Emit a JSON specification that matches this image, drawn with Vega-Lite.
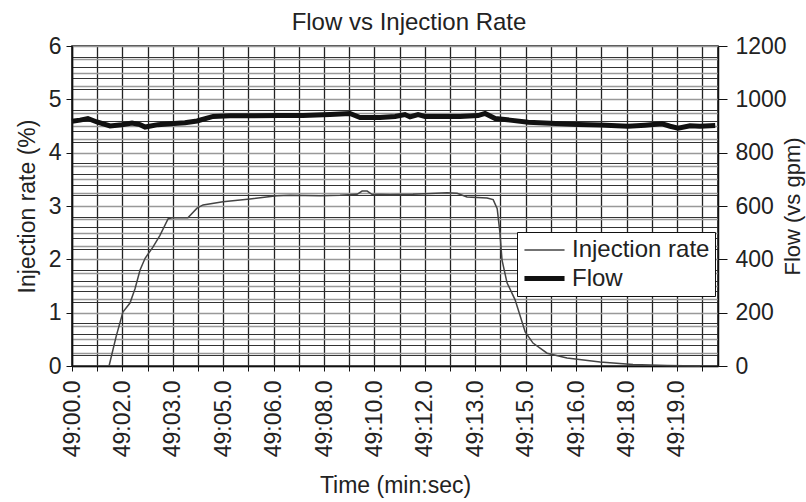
{
  "$schema": "https://vega.github.io/schema/vega-lite/v6.json",
  "width": 646,
  "height": 320,
  "autosize": {"type": "none"},
  "padding": {"left": 72, "top": 46, "right": 88, "bottom": 136},
  "background": "white",
  "title": {"text": "Flow vs Injection Rate", "fontSize": 24, "fontWeight": "normal", "font": "Liberation Sans", "color": "#222", "offset": 0, "anchor": "middle", "dx": 14},
  "config": {
    "view": {"stroke": "#111", "strokeWidth": 1.5},
    "axis": {"labelFont": "Liberation Sans", "titleFont": "Liberation Sans", "labelColor": "#222", "titleColor": "#222", "labelFontSize": 23, "titleFontSize": 23, "titleFontWeight": "normal", "domainColor": "#111", "tickColor": "#111", "domainWidth": 1.5}
  },
  "data": {
    "values": [
      {"t": 0.00, "series": "Flow", "value": 918},
      {"t": 0.32, "series": "Flow", "value": 922},
      {"t": 0.63, "series": "Flow", "value": 928},
      {"t": 0.99, "series": "Flow", "value": 915},
      {"t": 1.51, "series": "Flow", "value": 900},
      {"t": 1.98, "series": "Flow", "value": 905},
      {"t": 2.38, "series": "Flow", "value": 911},
      {"t": 2.70, "series": "Flow", "value": 905},
      {"t": 2.90, "series": "Flow", "value": 896},
      {"t": 3.41, "series": "Flow", "value": 905},
      {"t": 3.89, "series": "Flow", "value": 908},
      {"t": 4.48, "series": "Flow", "value": 912},
      {"t": 4.96, "series": "Flow", "value": 919},
      {"t": 5.60, "series": "Flow", "value": 936},
      {"t": 6.27, "series": "Flow", "value": 938},
      {"t": 7.18, "series": "Flow", "value": 938},
      {"t": 8.25, "series": "Flow", "value": 939},
      {"t": 9.17, "series": "Flow", "value": 939},
      {"t": 10.24, "series": "Flow", "value": 943},
      {"t": 11.03, "series": "Flow", "value": 947},
      {"t": 11.43, "series": "Flow", "value": 932},
      {"t": 12.22, "series": "Flow", "value": 932},
      {"t": 12.82, "series": "Flow", "value": 936},
      {"t": 13.21, "series": "Flow", "value": 943},
      {"t": 13.41, "series": "Flow", "value": 934},
      {"t": 13.73, "series": "Flow", "value": 943},
      {"t": 14.01, "series": "Flow", "value": 936},
      {"t": 14.60, "series": "Flow", "value": 936},
      {"t": 15.40, "series": "Flow", "value": 936},
      {"t": 16.11, "series": "Flow", "value": 939},
      {"t": 16.39, "series": "Flow", "value": 947},
      {"t": 16.79, "series": "Flow", "value": 928},
      {"t": 17.38, "series": "Flow", "value": 922},
      {"t": 18.10, "series": "Flow", "value": 914},
      {"t": 18.97, "series": "Flow", "value": 910},
      {"t": 20.08, "series": "Flow", "value": 906},
      {"t": 20.95, "series": "Flow", "value": 904},
      {"t": 22.06, "series": "Flow", "value": 899},
      {"t": 22.74, "series": "Flow", "value": 903},
      {"t": 23.41, "series": "Flow", "value": 908},
      {"t": 23.73, "series": "Flow", "value": 899},
      {"t": 24.05, "series": "Flow", "value": 892},
      {"t": 24.52, "series": "Flow", "value": 901},
      {"t": 24.92, "series": "Flow", "value": 899},
      {"t": 25.52, "series": "Flow", "value": 902},
      {"t": 1.47, "series": "Injection rate", "value": 0},
      {"t": 1.75, "series": "Injection rate", "value": 0.55},
      {"t": 2.02, "series": "Injection rate", "value": 1.01},
      {"t": 2.30, "series": "Injection rate", "value": 1.18},
      {"t": 2.50, "series": "Injection rate", "value": 1.45},
      {"t": 2.70, "series": "Injection rate", "value": 1.80},
      {"t": 2.90, "series": "Injection rate", "value": 2.02},
      {"t": 3.21, "series": "Injection rate", "value": 2.23},
      {"t": 3.49, "series": "Injection rate", "value": 2.45},
      {"t": 3.81, "series": "Injection rate", "value": 2.76},
      {"t": 3.97, "series": "Injection rate", "value": 2.78},
      {"t": 4.60, "series": "Injection rate", "value": 2.78},
      {"t": 4.96, "series": "Injection rate", "value": 2.96},
      {"t": 5.20, "series": "Injection rate", "value": 3.02},
      {"t": 5.99, "series": "Injection rate", "value": 3.08},
      {"t": 7.06, "series": "Injection rate", "value": 3.13},
      {"t": 8.13, "series": "Injection rate", "value": 3.19},
      {"t": 8.65, "series": "Injection rate", "value": 3.20},
      {"t": 9.84, "series": "Injection rate", "value": 3.19},
      {"t": 10.63, "series": "Injection rate", "value": 3.20},
      {"t": 11.31, "series": "Injection rate", "value": 3.22},
      {"t": 11.51, "series": "Injection rate", "value": 3.28},
      {"t": 11.71, "series": "Injection rate", "value": 3.28},
      {"t": 11.90, "series": "Injection rate", "value": 3.22},
      {"t": 12.62, "series": "Injection rate", "value": 3.21},
      {"t": 13.53, "series": "Injection rate", "value": 3.22},
      {"t": 14.88, "series": "Injection rate", "value": 3.25},
      {"t": 15.28, "series": "Injection rate", "value": 3.24},
      {"t": 15.67, "series": "Injection rate", "value": 3.17},
      {"t": 16.47, "series": "Injection rate", "value": 3.15},
      {"t": 16.71, "series": "Injection rate", "value": 3.12},
      {"t": 16.87, "series": "Injection rate", "value": 2.95},
      {"t": 16.98, "series": "Injection rate", "value": 2.49},
      {"t": 17.06, "series": "Injection rate", "value": 1.99},
      {"t": 17.26, "series": "Injection rate", "value": 1.56},
      {"t": 17.58, "series": "Injection rate", "value": 1.24},
      {"t": 17.98, "series": "Injection rate", "value": 0.64},
      {"t": 18.29, "series": "Injection rate", "value": 0.43},
      {"t": 18.85, "series": "Injection rate", "value": 0.24},
      {"t": 19.64, "series": "Injection rate", "value": 0.15},
      {"t": 20.95, "series": "Injection rate", "value": 0.075},
      {"t": 22.26, "series": "Injection rate", "value": 0.03},
      {"t": 23.61, "series": "Injection rate", "value": 0.01},
      {"t": 24.92, "series": "Injection rate", "value": 0.0}
    ]
  },
  "encoding": {
    "x": {
      "field": "t",
      "type": "quantitative",
      "scale": {"domain": [0, 25.63], "nice": false, "zero": false},
      "axis": {
        "title": "Time (min:sec)",
        "titlePadding": 18,
        "values": [0,1,2,3,4,5,6,7,8,9,10,11,12,13,14,15,16,17,18,19,20,21,22,23,24,25],
        "labelExpr": "datum.value % 2 == 0 ? ['49:00.0','49:02.0','49:03.0','49:05.0','49:06.0','49:08.0','49:10.0','49:12.0','49:13.0','49:15.0','49:16.0','49:18.0','49:19.0'][datum.value / 2] : ''",
        "labelAngle": 270,
        "labelOverlap": false,
        "labelFlush": false,
        "labelBound": false,
        "labelPadding": 9,
        "tickSize": 5,
        "grid": true,
        "gridColor": "#222",
        "gridWidth": 1.3
      }
    }
  },
  "layer": [
    {
      "transform": [{"filter": "datum.series == 'Injection rate'"}],
      "mark": {"type": "line", "interpolate": "linear"},
      "encoding": {
        "y": {
          "field": "value",
          "type": "quantitative",
          "scale": {"domain": [0, 6], "nice": false},
          "axis": {
            "orient": "left",
            "title": "Injection rate (%)",
            "titlePadding": 9,
            "values": [0,0.2,0.4,0.6,0.8,1,1.2,1.4,1.6,1.8,2,2.2,2.4,2.6,2.8,3,3.2,3.4,3.6,3.8,4,4.2,4.4,4.6,4.8,5,5.2,5.4,5.6,5.8,6],
            "labelExpr": "datum.value == round(datum.value) ? format(datum.value, 'd') : ''",
            "tickOpacity": {"condition": {"test": "datum.value == round(datum.value)", "value": 1}, "value": 0},
            "tickSize": 6,
            "labelPadding": 5,
            "grid": true,
            "gridColor": "#333",
            "gridWidth": 1.1
          }
        },
        "color": {
          "field": "series",
          "type": "nominal",
          "scale": {"domain": ["Injection rate", "Flow"], "range": ["#444444", "#111111"]},
          "legend": {
            "orient": "none",
            "legendX": 445,
            "legendY": 186,
            "title": null,
            "symbolType": "M-1.67,0H1.67",
            "symbolSize": 576,
            "symbolOffset": 8,
            "labelFontSize": 24,
            "labelFont": "Liberation Sans",
            "labelColor": "#222",
            "labelOffset": 13,
            "rowPadding": 2,
            "strokeColor": "#111",
            "fillColor": "white",
            "padding": 5
          }
        },
        "strokeWidth": {
          "field": "series",
          "type": "nominal",
          "scale": {"type": "ordinal", "domain": ["Injection rate", "Flow"], "range": [1.5, 5]}
        }
      }
    },
    {
      "transform": [{"filter": "datum.series == 'Flow'"}],
      "mark": {"type": "line", "interpolate": "linear"},
      "encoding": {
        "y": {
          "field": "value",
          "type": "quantitative",
          "scale": {"domain": [0, 1200], "nice": false},
          "axis": {
            "orient": "right",
            "title": "Flow (vs gpm)",
            "titleAngle": 270,
            "titleBaseline": "top",
            "titleFontSize": 22,
            "titlePadding": -4,
            "values": [0,50,100,150,200,250,300,350,400,450,500,550,600,650,700,750,800,850,900,950,1000,1050,1100,1150,1200],
            "labelExpr": "datum.value % 200 == 0 ? format(datum.value, 'd') : ''",
            "tickOpacity": {"condition": {"test": "datum.value % 200 == 0", "value": 1}, "value": 0},
            "tickSize": 9,
            "labelPadding": 8,
            "grid": true,
            "gridColor": "#999",
            "gridWidth": 1.3
          }
        },
        "color": {
          "field": "series",
          "type": "nominal",
          "scale": {"domain": ["Injection rate", "Flow"], "range": ["#444444", "#111111"]}
        },
        "strokeWidth": {
          "field": "series",
          "type": "nominal",
          "scale": {"type": "ordinal", "domain": ["Injection rate", "Flow"], "range": [1.5, 5]}
        }
      }
    }
  ],
  "resolve": {"scale": {"y": "independent"}}
}
